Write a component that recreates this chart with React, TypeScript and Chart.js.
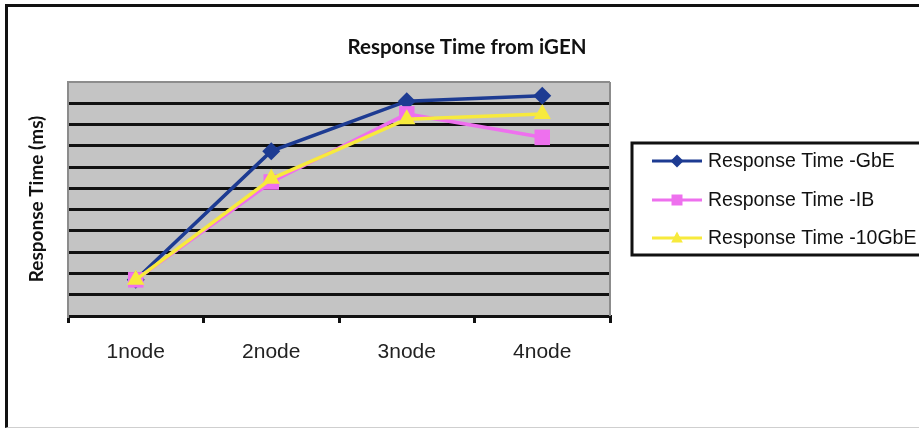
import React, { useEffect, useRef } from 'react';
import { Chart, registerables } from 'chart.js';

Chart.register(...registerables);

const categories = ['1node', '2node', '3node', '4node'];
const gbeValues = [1.7, 7.75, 10.1, 10.35];
const ibValues = [1.7, 6.3, 9.5, 8.4];
const tenGbeValues = [1.7, 6.45, 9.25, 9.5];
const seriesLabels = ['Response Time -GbE', 'Response Time -IB', 'Response Time -10GbE'];
const chartTitle = 'Response Time from iGEN';
const yAxisTitle = 'Response Time (ms)';
const yMin = 0;
const yMax = 11;

const colors = ['#1d3b92', '#ee70ee', '#f7ea3c'];
const markerStyles = ['rectRot', 'rect', 'triangle'];

function drawMarker(ctx: CanvasRenderingContext2D, style: string, x: number, y: number, r: number, color: string) {
  ctx.save();
  ctx.fillStyle = color;
  ctx.beginPath();
  if (style === 'rectRot') {
    ctx.moveTo(x, y - r);
    ctx.lineTo(x + r, y);
    ctx.lineTo(x, y + r);
    ctx.lineTo(x - r, y);
  } else if (style === 'rect') {
    ctx.rect(x - r, y - r, 2 * r, 2 * r);
  } else {
    ctx.moveTo(x, y - r);
    ctx.lineTo(x + r * 0.9, y + r * 0.7);
    ctx.lineTo(x - r * 0.9, y + r * 0.7);
  }
  ctx.closePath();
  ctx.fill();
  ctx.restore();
}

const decorPlugin = {
  id: 'decor',
  beforeDraw(chart: any) {
    const { ctx, chartArea } = chart;
    ctx.save();
    ctx.fillStyle = '#c4c4c4';
    ctx.fillRect(chartArea.left, chartArea.top, chartArea.right - chartArea.left, chartArea.bottom - chartArea.top);
    ctx.restore();
  },
  afterDatasetsDraw(chart: any) {
    const { ctx, chartArea } = chart;
    ctx.save();
    ctx.strokeStyle = '#8c8c8c';
    ctx.lineWidth = 2;
    ctx.beginPath();
    ctx.moveTo(chartArea.right, chartArea.top);
    ctx.lineTo(chartArea.right, chartArea.bottom);
    ctx.stroke();
    ctx.restore();
  },
  afterDraw(chart: any) {
    const { ctx } = chart;
    ctx.save();
    // title
    ctx.fillStyle = '#111';
    ctx.font = 'bold 20.5px Lato';
    ctx.textAlign = 'center';
    ctx.textBaseline = 'middle';
    ctx.fillText(chartTitle, 467, 47);
    // legend box
    ctx.fillStyle = '#fff';
    ctx.fillRect(632, 143, 340, 112);
    ctx.strokeStyle = '#111';
    ctx.lineWidth = 3;
    ctx.strokeRect(632, 143, 340, 112);
    const rows = [161, 200, 238];
    chart.data.datasets.forEach((ds: any, i: number) => {
      const y = rows[i];
      ctx.strokeStyle = ds.borderColor;
      ctx.lineWidth = 3;
      ctx.beginPath();
      ctx.moveTo(652, y);
      ctx.lineTo(702, y);
      ctx.stroke();
      drawMarker(ctx, markerStyles[i], 677, y, i === 1 ? 5.5 : 6.5, ds.borderColor);
      ctx.fillStyle = '#111';
      ctx.font = '19.5px "Liberation Sans"';
      ctx.textAlign = 'left';
      ctx.textBaseline = 'middle';
      ctx.fillText(ds.label, 708, y + 1);
    });
    ctx.restore();
  },
};

export default function App() {
  const canvasRef = useRef<HTMLCanvasElement | null>(null);

  useEffect(() => {
    if (!canvasRef.current) return;
    const seriesValues = [gbeValues, ibValues, tenGbeValues];
    const chart = new Chart(canvasRef.current, {
      type: 'line',
      data: {
        labels: categories,
        datasets: seriesValues.map((vals, i) => ({
          label: seriesLabels[i],
          data: vals,
          borderColor: colors[i],
          backgroundColor: colors[i],
          borderWidth: 3.5,
          pointStyle: markerStyles[i] as any,
          pointRadius: i === 0 ? 9 : i === 1 ? 11 : 10,
          pointBorderWidth: 0,
          pointBackgroundColor: colors[i],
          tension: 0,
          order: 3 - i,
        })),
      },
      options: {
        animation: false,
        responsive: false,
        devicePixelRatio: 1,
        layout: { padding: { left: 0, top: 82, right: 324, bottom: 52 } },
        plugins: {
          legend: { display: false },
          title: { display: false },
          tooltip: { enabled: false },
        },
        scales: {
          x: {
            type: 'category',
            offset: true,
            afterFit: (s: any) => { s.height = 60; },
            grid: {
              display: true,
              offset: true,
              drawOnChartArea: false,
              drawTicks: true,
              tickLength: 7,
              color: '#111',
              lineWidth: 3,
            },
            border: { display: true, color: '#111', width: 3 },
            ticks: {
              color: '#222',
              padding: 17,
              font: { family: '"Liberation Sans"', size: 21 },
            },
          },
          y: {
            min: yMin,
            max: yMax,
            afterFit: (s: any) => { s.width = 68; },
            ticks: { display: false, stepSize: 1 },
            grid: {
              drawTicks: false,
              color: (c: any) => (c.tick && c.tick.value === yMax ? '#8c8c8c' : '#111'),
              lineWidth: (c: any) => (c.tick && c.tick.value === yMax ? 2 : 3),
            },
            border: { display: true, color: '#8c8c8c', width: 2 },
            title: {
              display: true,
              text: yAxisTitle,
              color: '#111',
              font: { family: 'Lato', size: 19, weight: 'bold' },
              padding: { top: 25, bottom: 0 },
            },
          },
        },
      },
      plugins: [decorPlugin],
    });
    return () => chart.destroy();
  }, []);

  return (
    <div style={{ position: 'fixed', left: 0, top: 0, width: 919, height: 428, overflow: 'hidden', background: '#fff' }}>
      <div
        style={{
          position: 'absolute',
          left: 5,
          top: 4,
          width: 1200,
          height: 420,
          borderLeft: '3px solid #111',
          borderTop: '3px solid #111',
          borderBottom: '1px solid #cfcfcf',
        }}
      />
      <canvas ref={canvasRef} width={934} height={428} style={{ position: 'absolute', left: 0, top: 0, width: 934, height: 428 }} />
    </div>
  );
}
